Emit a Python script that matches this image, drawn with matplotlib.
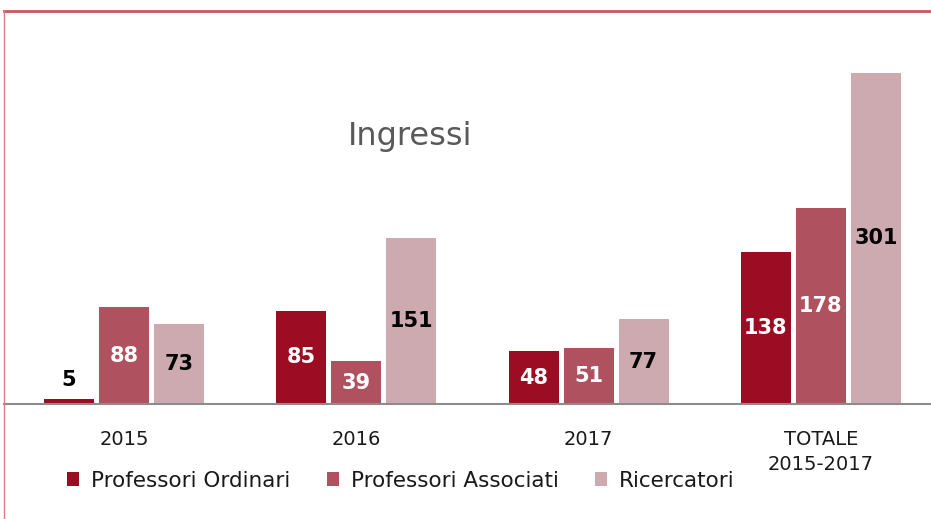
import matplotlib.pyplot as plt
from matplotlib.patches import Patch
from matplotlib.lines import Line2D
import numpy as np

# data
categories = ['2015', '2016', '2017', 'TOTALE\n2015-2017']
ordinari = [5, 85, 48, 138]
associati = [88, 39, 51, 178]
ricercatori = [73, 151, 77, 301]
series_names = ['Professori Ordinari', 'Professori Associati', 'Ricercatori']

colors = ['#9C0C23', '#B0515F', '#CDAAB0']
label_colors = ['white', 'white', 'black']

W, H = 931, 519
fig = plt.figure(figsize=(W / 100, H / 100), dpi=100)

# axes placed in pixel terms: baseline at y=404, top at y=11, x from 4 to 931
left, right, top, base = 4, 931, 11, 404
ax = fig.add_axes([left / W, (H - base) / H, (right - left) / W, (base - top) / H])

px_per_unit = 1.1
group_px = 232.3
ax.set_ylim(0, (base - top) / px_per_unit)
x0 = (124 - left) / group_px
ax.set_xlim(-x0, -x0 + (right - left) / group_px)

x = np.arange(len(categories))
bw = 50 / group_px
off = 55 / group_px
all_series = [ordinari, associati, ricercatori]
for i, vals in enumerate(all_series):
    xs = x + (i - 1) * off
    ax.bar(xs, vals, width=bw, color=colors[i], edgecolor='none', zorder=2)
    for xi, v in zip(xs, vals):
        if v < 15:
            # tiny bar: label sits above it
            ax.text(xi, v + 8, str(v), ha='center', va='bottom', fontsize=15,
                    fontweight='bold', color='black')
        else:
            ax.text(xi, v / 2, str(v), ha='center', va='center', fontsize=15,
                    fontweight='bold', color=label_colors[i])

for s in ['top', 'right', 'left']:
    ax.spines[s].set_visible(False)
ax.spines['bottom'].set_color('#8C8C8C')
ax.spines['bottom'].set_linewidth(1.5)
ax.set_yticks([])
ax.set_xticks(x)
ax.set_xticklabels(categories, fontsize=14, color='#1A1A1A', linespacing=1.35)
ax.tick_params(axis='x', length=0, pad=19)

fig.text(410 / W, 1 - 137 / H, 'Ingressi', fontsize=23, color='#595959',
         ha='center', va='center')

# red frame on top and left
fig.add_artist(Line2D([left / W, 1], [(H - top) / H] * 2, color='#C9585A', lw=2))
fig.add_artist(Line2D([left / W] * 2, [0, (H - top) / H], color='#D98080', lw=1))

handles = [Patch(facecolor=c, edgecolor='none') for c in colors]
fig.legend(handles, series_names, loc='center left',
           bbox_to_anchor=(67 / W, (H - 481) / H), ncol=3, frameon=False,
           fontsize=15.5, handlelength=0.56, handleheight=0.62,
           handletextpad=0.55, columnspacing=1.7, borderpad=0, borderaxespad=0,
           labelcolor='#1A1A1A')

fig.savefig('out.png', dpi=100)
